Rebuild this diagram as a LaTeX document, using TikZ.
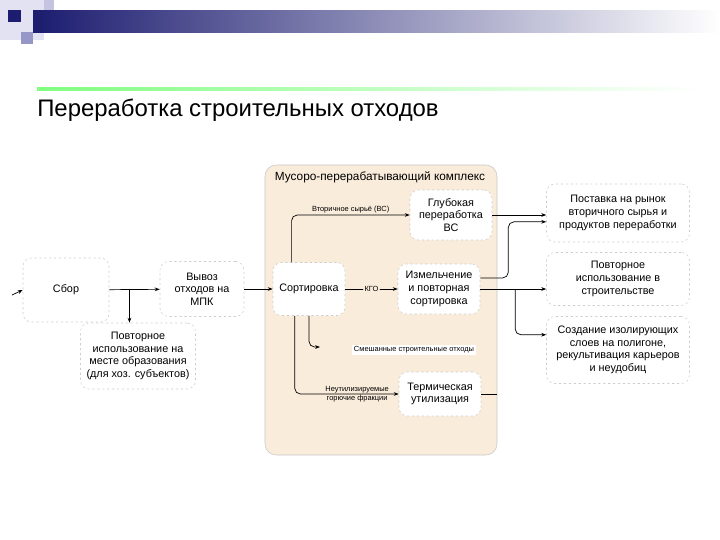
\documentclass[tikz,border=0pt]{standalone}
\usepackage{fontspec}
\setmainfont{Liberation Sans}
\usetikzlibrary{arrows.meta}
\definecolor{plantbg}{RGB}{250,236,219}
\definecolor{navyc}{RGB}{28,28,112}
\definecolor{lavc}{RGB}{150,150,200}
\definecolor{palec}{RGB}{226,226,242}
\newcommand{\boxfont}{\fontsize{7.7}{9}\selectfont}
\newcommand{\tagfont}{\fontsize{5.3}{6}\selectfont}
\begin{document}
\begin{tikzpicture}[x=0.25mm, y=-0.25mm, >={Stealth[length=3.5pt,width=2.6pt]},
    box/.style={draw=black!20, dash pattern=on 1.5pt off 2pt, fill=white, rounded corners=6pt,
        align=center, font=\boxfont, inner sep=1pt},
    flow/.style={->, line width=0.5pt, rounded corners=4pt},
    tag/.style={font=\tagfont, inner sep=1pt, align=center}]
    \useasboundingbox (0,0) rectangle (720,540);
    % header
    \fill[palec] (0,0) rectangle (44,40);
    \fill[palec!60!lavc] (44,0) rectangle (54,22);
    \shade[left color=navyc, middle color=navyc!35!white, right color=white] (33,10) rectangle (720,32);
    \fill[navyc] (8,10) rectangle (21,22);
    \fill[lavc] (21,32) rectangle (33,44);
    \shade[left color=green!50!white, right color=white] (37,87) rectangle (700,90);
    \node[anchor=west, font=\fontsize{17}{20}\selectfont, inner sep=0pt] (title) at (37,110)
        {Переработка строительных отходов};
    % complex
    \node[draw=black!22, fill=plantbg, rounded corners=8pt, minimum width=58mm, minimum height=72.5mm]
        (plant) at (381,310) {};
    \node[font=\fontsize{8.4}{10}\selectfont] (plantname) at (380,177) {Мусоро-перерабатывающий комплекс};
    % boxes
    \node[box, minimum width=21.5mm, minimum height=16mm] (collect) at (66,290) {Сбор};
    \node[box, minimum width=21mm, minimum height=13.75mm] (export) at (202,289) {Вывоз\\отходов на\\МПК};
    \node[box, minimum width=28.75mm, minimum height=16.5mm] (reuse) at (138,356)
        {Повторное\\использование на\\месте образования\\(для хоз. субъектов)};
    \node[box, minimum width=18mm, minimum height=13.25mm] (sort) at (309,289) {Сортировка};
    \node[box, minimum width=20.5mm, minimum height=12.5mm] (deep) at (451,215) {Глубокая\\переработка\\ВС};
    \node[box, minimum width=20.5mm, minimum height=12.5mm] (grind) at (439,289)
        {Измельчение\\и повторная\\сортировка};
    \node[box, minimum width=20.5mm, minimum height=11mm] (therm) at (440,394) {Термическая\\утилизация};
    \node[box, minimum width=35.75mm, minimum height=14.5mm] (supply) at (618,213)
        {Поставка на рынок\\вторичного сырья и\\продуктов переработки};
    \node[box, minimum width=35.75mm, minimum height=13.25mm] (build) at (618,279)
        {Повторное\\использование в\\строительстве};
    \node[box, minimum width=35.75mm, minimum height=16.75mm] (isol) at (618,350)
        {Создание изолирующих\\слоев на полигоне,\\рекультивация карьеров\\и неудобиц};
    \node[tag, fill=white, inner sep=1.5pt] (mixtag) at (414,350) {Смешанные строительные отходы};
    % connectors
    \coordinate (src) at (12,295);
    \coordinate (mixend) at (320,347);
    \draw[flow] (src) -- (collect.west);
    \draw[flow] (collect) -- (export) coordinate[pos=0.4] (fork);
    \draw[flow] (fork) -- (fork |- reuse.north);
    \draw[flow] (export) -- (sort);
    \draw[flow] (sort.123) |- (deep.west) node[tag, pos=0.75, above] {Вторичное сырьё (ВС)};
    \draw[flow] (sort) -- (grind) node[tag, midway, fill=plantbg] {КГО};
    \draw[flow] (sort.242) |- (therm.west) node[tag, pos=0.8] {Неутилизируемые\\горючие фракции};
    \draw[flow] (sort.south) |- (mixend);
    \draw[line width=0.5pt] (therm.east) -- (therm.east -| plant.east);
    \draw[flow] (deep.east) -- (deep.east -| supply.west);
    \draw[flow] (grind.15) -- ++(28,0) |- (supply.187);
    \draw[flow] (grind.east) -- (grind.east -| build.west) coordinate[pos=0.53] (fork2);
    \draw[flow] (fork2) |- (isol.168);
\end{tikzpicture}
\end{document}
